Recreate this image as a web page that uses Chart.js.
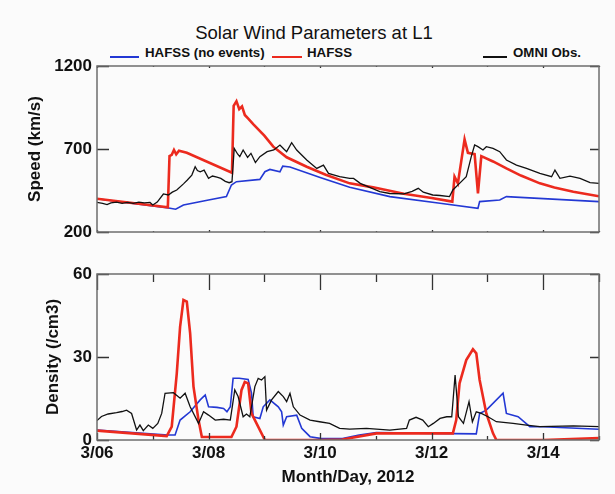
<!DOCTYPE html>
<html>
<head>
<meta charset="utf-8">
<title>Solar Wind Parameters at L1</title>
<script src="https://cdn.jsdelivr.net/npm/chart.js@4.4.0/dist/chart.umd.min.js"></script>
<style>
  html, body { margin: 0; padding: 0; background: #fbfbfb; }
  #wrap { position: relative; width: 615px; height: 494px; overflow: hidden;
          font-family: 'Liberation Sans', Arial, sans-serif; color: #111; }
  canvas { position: absolute; left: 0; }
  #speedChart { top: 0; }
  #densityChart { top: 250px; }
  #title { position: absolute; top: 22px; left: 164px; width: 300px; text-align: center;
           font-size: 18.5px; line-height: 22px; }
  .leg { position: absolute; top: 45px; font-size: 13.3px; font-weight: bold; line-height: 15px; white-space: nowrap; }
  .legline { position: absolute; top: 56px; height: 0; border-top: 2px solid; }
  .frame { pointer-events: none; }
</style>
</head>
<body>
<div id="wrap">
  <div id="title">Solar Wind Parameters at L1</div>
  <div id="legend"></div>
  <canvas id="speedChart" width="615" height="250"></canvas>
  <canvas id="densityChart" width="615" height="244"></canvas>
</div>
<script>
// x values are days after 3/06 00:00 (2012)
const dayLabels = ['3/06', '3/08', '3/10', '3/12', '3/14'];
const seriesNames = ['HAFSS (no events)', 'HAFSS', 'OMNI Obs.'];
const seriesColors = ['#2338d4', '#ec2a1e', '#111111'];

// Speed (km/s)
const speedNoEvDays = [0, 1.31, 1.41, 1.55, 2.0, 2.32, 2.41, 2.50, 2.92, 3.01, 3.10, 3.28, 3.33, 3.46, 4.0, 4.53, 5.25, 6.15, 6.83, 6.86, 7.22, 7.34, 9.0];
const speedNoEv     = [400, 343, 337, 363, 393, 413, 483, 503, 517, 563, 577, 563, 597, 592, 529, 469, 413, 373, 343, 383, 393, 413, 383];

const speedHafssDays = [0, 1.27, 1.30, 1.34, 1.38, 1.42, 1.47, 1.61, 2.42, 2.45, 2.50, 2.55, 2.60, 2.65, 2.72, 2.80, 3.0, 3.16, 3.4, 3.76, 4.1, 4.53, 4.95, 5.5, 6.0, 6.37, 6.41, 6.47, 6.59, 6.65, 6.77, 6.83, 6.89, 7.1, 7.34, 7.6, 7.94, 8.2, 8.54, 9.0];
const speedHafss     = [400, 349, 658, 665, 694, 668, 690, 677, 557, 960, 988, 940, 957, 905, 880, 850, 780, 714, 650, 593, 545, 493, 469, 430, 405, 383, 533, 493, 758, 677, 669, 433, 657, 625, 583, 540, 493, 468, 443, 415];

const speedObsDays = [0, 0.1, 0.18, 0.25, 0.35, 0.45, 0.55, 0.65, 0.75, 0.85, 0.95, 1.0, 1.08, 1.19, 1.28, 1.35, 1.43, 1.55, 1.62, 1.7, 1.76, 1.8, 1.85, 1.92, 2.0, 2.07, 2.15, 2.22, 2.3, 2.37, 2.42, 2.46, 2.52, 2.56, 2.62, 2.7, 2.76, 2.84, 2.92, 3.05, 3.17, 3.28, 3.35, 3.4, 3.49, 3.58, 3.76, 3.94, 4.06, 4.15, 4.35, 4.53, 4.6, 4.72, 5.07, 5.25, 5.5, 5.65, 5.76, 5.85, 6.02, 6.15, 6.32, 6.38, 6.5, 6.62, 6.71, 6.77, 6.83, 6.92, 6.98, 7.1, 7.22, 7.34, 7.52, 7.7, 7.94, 8.15, 8.21, 8.3, 8.48, 8.66, 8.84, 9.0];
const speedObs     = [379, 372, 365, 375, 380, 372, 378, 372, 380, 375, 378, 363, 380, 429, 423, 440, 453, 490, 513, 543, 593, 570, 563, 573, 523, 537, 530, 523, 505, 497, 503, 704, 670, 654, 694, 650, 674, 618, 654, 684, 694, 724, 700, 684, 738, 694, 634, 583, 603, 553, 533, 523, 523, 493, 443, 432, 430, 445, 463, 440, 423, 420, 413, 453, 493, 533, 654, 724, 714, 694, 714, 704, 684, 634, 603, 583, 553, 533, 573, 523, 537, 523, 497, 493];

// Density (/cm3)
const densNoEvDays = [0, 1.27, 1.4, 1.49, 1.67, 1.85, 1.94, 2.0, 2.15, 2.27, 2.33, 2.39, 2.44, 2.55, 2.71, 2.77, 2.8, 2.92, 2.98, 3.1, 3.25, 3.31, 3.34, 3.4, 3.58, 3.67, 3.82, 4.0, 4.4, 4.7, 5.01, 6.0, 6.8, 6.86, 6.98, 7.28, 7.34, 7.55, 7.76, 8.0, 9.0];
const densNoEv     = [3.6, 1.8, 1.8, 7.2, 10.2, 14.5, 16.3, 12, 11.8, 11.4, 10.2, 12, 22.3, 22.3, 21.9, 16.9, 8.4, 7.8, 12, 14.5, 12, 10.2, 5.4, 8.4, 9, 4.2, 1.2, 0.6, 0.5, 1.8, 2.7, 2.4, 2.2, 9.6, 10.8, 16.9, 9.6, 8.4, 4.8, 4.8, 3.9];

const densHafssDays = [0, 1.25, 1.34, 1.43, 1.49, 1.55, 1.61, 1.67, 1.73, 1.82, 1.88, 2.41, 2.5, 2.59, 2.65, 2.71, 2.77, 2.86, 3.01, 4.0, 4.4, 5.01, 6.38, 6.44, 6.5, 6.62, 6.74, 6.8, 6.86, 6.98, 7.1, 7.16, 8.0, 9.0];
const densHafss     = [3.4, 1.4, 4.8, 24, 41, 50.6, 50, 38.5, 19.3, 7.2, 1.1, 1.1, 4.8, 18, 21, 20.5, 9.6, 6, 0, 0, 0.2, 2.4, 2.4, 7.2, 20.5, 28.9, 32.8, 31.3, 21.7, 9.6, 2.4, 0, 0, 0.7];

const densObsDays = [0, 0.08, 0.2, 0.35, 0.45, 0.53, 0.62, 0.71, 0.77, 0.83, 0.92, 1.0, 1.09, 1.16, 1.22, 1.37, 1.49, 1.58, 1.67, 1.82, 1.91, 2.0, 2.12, 2.27, 2.39, 2.47, 2.53, 2.62, 2.68, 2.74, 2.83, 2.89, 2.95, 3.01, 3.04, 3.13, 3.25, 3.34, 3.4, 3.46, 3.52, 3.64, 3.82, 3.99, 4.17, 4.35, 4.53, 4.83, 5.25, 5.55, 5.6, 5.72, 5.84, 5.94, 6.03, 6.15, 6.27, 6.36, 6.42, 6.48, 6.57, 6.67, 6.73, 6.8, 6.89, 7.01, 7.16, 7.46, 7.7, 7.94, 8.54, 9.0];
const densObs     = [7, 8.5, 9.4, 9.9, 10.3, 10.8, 9.6, 3.6, 5.4, 3.4, 5.4, 4.2, 6, 9.6, 16.9, 17.1, 15.1, 16.9, 12, 6, 10.2, 9, 7.2, 7.5, 7.2, 18.1, 15.7, 8.4, 9.4, 8.4, 19.3, 22.3, 21.7, 22.9, 10.8, 14.5, 17.5, 15.7, 13.9, 16.9, 12, 9, 7.2, 6.6, 6, 4.2, 3.9, 4.2, 3.6, 4.2, 7.2, 8.2, 7.2, 4.8, 6, 7.8, 8.4, 8.4, 23.5, 8.4, 6, 13.9, 6.6, 10.2, 9.6, 8.4, 6.6, 6, 5.4, 4.8, 5.1, 4.8];

const pts = (xs, ys) => xs.map((x, i) => ({ x: x, y: ys[i] }));

// legend drawn as html, same colours as the datasets
const legendPos = [[110, 29, 145], [272, 30, 307], [483, 24, 513]];
document.getElementById('legend').innerHTML = seriesNames.map((name, i) => {
    const [lx, lw, tx] = legendPos[i];
    return `<div class="legline" style="left:${lx}px;width:${lw}px;border-top-color:${seriesColors[i]}"></div>` +
           `<span class="leg" style="left:${tx}px">${name}</span>`;
}).join('');

const tickFont = { family: "'Liberation Sans', Arial, sans-serif", size: 17, weight: 'bold' };

function lineSet(label, data, color, width, order) {
    return { label, data, borderColor: color, borderWidth: width, pointRadius: 0,
             tension: 0, fill: false, order: order };
}

function makeChart(id, cfg) {
    return new Chart(document.getElementById(id), {
        type: 'line',
        data: { datasets: cfg.datasets },
        options: {
            responsive: false,
            animation: false,
            devicePixelRatio: 1,
            layout: { padding: cfg.padding },
            plugins: { legend: { display: false }, tooltip: { enabled: false } },
            scales: {
                x: {
                    type: 'linear', min: 0, max: 9,
                    display: cfg.showX,
                    afterFit: s => { if (cfg.showX) s.height = 54; },
                    grid: { display: false, drawTicks: false },
                    border: { display: false },
                    ticks: { stepSize: 2, includeBounds: false, padding: 3, maxRotation: 0,
                             color: '#111', font: tickFont,
                             callback: v => dayLabels[v / 2] },
                    title: { display: true, text: 'Month/Day, 2012', color: '#111', font: tickFont,
                             padding: { top: 0, bottom: 6 } }
                },
                y: {
                    min: cfg.yMin, max: cfg.yMax,
                    afterFit: s => { s.width = 97; },
                    grid: { display: false, drawTicks: false },
                    border: { display: false },
                    ticks: { stepSize: cfg.yStep, padding: 5, color: '#111', font: tickFont,
                             callback: v => String(v) },
                    title: { display: true, text: cfg.yTitle, color: '#111', font: tickFont,
                             padding: { top: cfg.yTitlePad, bottom: 0 } }
                }
            }
        }
    });
}

// IDL-style box with inward ticks, laid over the chart canvas,
// placed from the chart's own area and scales
function drawFrame(chart, tk) {
    const src = chart.canvas;
    const ov = document.createElement('canvas');
    ov.className = 'frame';
    ov.width = src.width;
    ov.height = src.height;
    ov.style.top = src.offsetTop + 'px';
    src.parentNode.appendChild(ov);

    const ctx = ov.getContext('2d');
    const a = chart.chartArea;
    const x = chart.scales.x, y = chart.scales.y;

    ctx.strokeStyle = '#333';
    ctx.lineWidth = 1.3;
    ctx.beginPath();
    for (let d = 0; d <= 9; d++) {
        const px = Math.round(x.getPixelForValue(d)) + 0.5;
        const major = d % 2 === 0;
        ctx.moveTo(px, a.top);
        ctx.lineTo(px, a.top + (major ? tk.topMajor : tk.topMinor));
        ctx.moveTo(px, a.bottom);
        ctx.lineTo(px, a.bottom - (major ? tk.botMajor : tk.botMinor));
    }
    y.ticks.forEach(t => {
        const py = Math.round(y.getPixelForValue(t.value)) + 0.5;
        ctx.moveTo(a.left, py); ctx.lineTo(a.left + 12, py);
        ctx.moveTo(a.right, py); ctx.lineTo(a.right - 9, py);
    });
    ctx.stroke();

    ctx.strokeStyle = '#6e6e6e';
    ctx.lineWidth = 1.5;
    ctx.strokeRect(a.left, a.top, a.right - a.left, a.bottom - a.top);
}

const speedChart = makeChart('speedChart', {
    datasets: [
        lineSet(seriesNames[2], pts(speedObsDays, speedObs), seriesColors[2], 1.3, 0),
        lineSet(seriesNames[1], pts(speedHafssDays, speedHafss), seriesColors[1], 2.6, 1),
        lineSet(seriesNames[0], pts(speedNoEvDays, speedNoEv), seriesColors[0], 1.6, 2)
    ],
    padding: { top: 66, right: 16, bottom: 18, left: 0 },
    showX: false,
    yMin: 200, yMax: 1200, yStep: 500,
    yTitle: 'Speed (km/s)', yTitlePad: 25
});

const densityChart = makeChart('densityChart', {
    datasets: [
        lineSet(seriesNames[2], pts(densObsDays, densObs), seriesColors[2], 1.3, 0),
        lineSet(seriesNames[1], pts(densHafssDays, densHafss), seriesColors[1], 2.6, 1),
        lineSet(seriesNames[0], pts(densNoEvDays, densNoEv), seriesColors[0], 1.6, 2)
    ],
    padding: { top: 24, right: 16, bottom: 0, left: 0 },
    showX: true,
    yMin: 0, yMax: 60, yStep: 30,
    yTitle: 'Density (/cm3)', yTitlePad: 43
});

drawFrame(speedChart, { topMajor: 2, topMinor: 1, botMajor: 2, botMinor: 1 });
drawFrame(densityChart, { topMajor: 16, topMinor: 8, botMajor: 7, botMinor: 4 });
</script>
</body>
</html>
